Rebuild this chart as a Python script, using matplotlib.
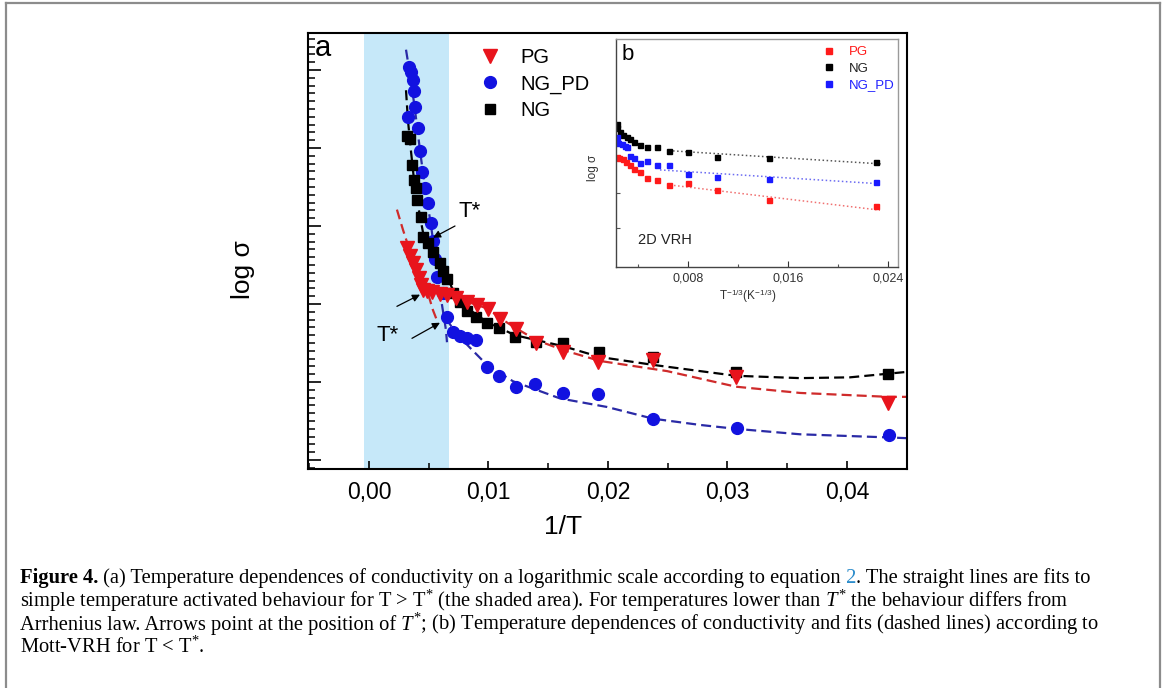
import matplotlib
matplotlib.use('Agg')
import matplotlib.pyplot as plt
from matplotlib.lines import Line2D
from matplotlib.ticker import MultipleLocator, FuncFormatter, FixedLocator

plt.rcParams['font.family'] = ['Liberation Sans', 'DejaVu Sans']
plt.rcParams['mathtext.fontset'] = 'custom'
plt.rcParams['mathtext.rm'] = 'Liberation Serif'
plt.rcParams['mathtext.it'] = 'Liberation Serif:italic'
plt.rcParams['mathtext.sf'] = 'Liberation Sans'

# ---- panel (a): log sigma vs 1/T ----
pg_x = [0.00318, 0.00343, 0.00368, 0.00393, 0.00418, 0.00435, 0.00452, 0.00485, 0.00527,
        0.00594, 0.00653, 0.00728, 0.0082, 0.00904, 0.00996, 0.01096, 0.0123, 0.01397,
        0.01623, 0.01916, 0.02377, 0.03071, 0.04343]
pg_y = [1.72, 1.62, 1.53, 1.44, 1.33, 1.24, 1.18, 1.17, 1.15, 1.13, 1.12, 1.08, 1.03, 0.99,
        0.94, 0.81, 0.68, 0.50, 0.38, 0.26, 0.28, 0.06, -0.27]

ngpd_x = [0.00335, 0.00351, 0.00368, 0.00377, 0.00385, 0.00326, 0.0041, 0.00427, 0.00444,
          0.00469, 0.00494, 0.0052, 0.00536, 0.00552, 0.00569, 0.00619, 0.00653, 0.00703,
          0.00762, 0.0082, 0.00895, 0.00987, 0.01088, 0.0123, 0.01389, 0.01623, 0.01916,
          0.02377, 0.0308, 0.04351]
ngpd_y = [4.04, 3.97, 3.87, 3.73, 3.53, 3.40, 3.26, 2.96, 2.69, 2.49, 2.29, 2.04, 1.81, 1.58,
          1.35, 1.14, 0.83, 0.64, 0.59, 0.56, 0.54, 0.19, 0.08, -0.06, -0.03, -0.14, -0.15,
          -0.47, -0.59, -0.68]

ng_x = [0.0032, 0.00343, 0.0036, 0.00377, 0.00393, 0.00402, 0.00435, 0.00452, 0.00494,
        0.00536, 0.00594, 0.00619, 0.00653, 0.00703, 0.00762, 0.0082, 0.00895, 0.00987,
        0.01088, 0.01222, 0.01397, 0.01623, 0.01925, 0.02377, 0.03071, 0.04343]
ng_y = [3.15, 3.12, 2.78, 2.59, 2.49, 2.33, 2.12, 1.86, 1.78, 1.67, 1.53, 1.42, 1.32, 1.14,
        1.03, 0.91, 0.83, 0.76, 0.69, 0.58, 0.51, 0.50, 0.38, 0.32, 0.13, 0.10]

# fitted curves as drawn in the figure
pg_fit1_x = [0.00234, 0.00285, 0.00368, 0.00485, 0.00536, 0.00569]
pg_fit1_y = [2.21, 1.95, 1.56, 1.18, 0.92, 0.79]
pg_fit2_x = [0.00343, 0.00427, 0.00527, 0.00653, 0.0082, 0.00996, 0.01096, 0.0123, 0.01397,
             0.01623, 0.01933, 0.02494, 0.03071, 0.03607, 0.04343, 0.04502]
pg_fit2_y = [1.60, 1.33, 1.18, 1.10, 1.03, 0.94, 0.82, 0.69, 0.54, 0.41, 0.27, 0.14, -0.06,
             -0.14, -0.19, -0.19]

ngpd_fit1_x = [0.0031, 0.00351, 0.00385, 0.00427, 0.00469, 0.00519, 0.00569, 0.00611, 0.00644, 0.00653]
ngpd_fit1_y = [4.26, 3.87, 3.49, 2.97, 2.49, 2.01, 1.44, 0.99, 0.67, 0.51]
ngpd_fit2_x = [0.00644, 0.0072, 0.00845, 0.00987, 0.01205, 0.01598, 0.01992, 0.02377, 0.0277,
               0.03071, 0.03607, 0.04343, 0.04502]
ngpd_fit2_y = [0.82, 0.64, 0.44, 0.22, 0.01, -0.21, -0.32, -0.47, -0.55, -0.60, -0.67, -0.71, -0.72]

ng_fit1_x = [0.0031, 0.00326, 0.00351, 0.00377, 0.0041, 0.00452, 0.0051, 0.00594]
ng_fit1_y = [3.74, 3.36, 2.97, 2.59, 2.27, 1.92, 1.69, 1.50]
ng_fit2_x = [0.00494, 0.00594, 0.00703, 0.0082, 0.00987, 0.01222, 0.01623, 0.01934, 0.02377,
             0.0277, 0.03071, 0.03607, 0.04025, 0.04502]
ng_fit2_y = [1.76, 1.54, 1.18, 0.95, 0.77, 0.60, 0.46, 0.32, 0.22, 0.14, 0.08, 0.05, 0.06, 0.13]

shade_x = [-0.0004, 0.0067]
xticks_a = [0.0, 0.01, 0.02, 0.03, 0.04]

# ---- panel (b): 2D VRH ----
b_ng_x = [0.0023, 0.00234, 0.00256, 0.00282, 0.0031, 0.00334, 0.00368, 0.00416, 0.00474,
          0.0055, 0.0065, 0.00802, 0.01034, 0.0145, 0.02302]
b_ng_y = [2.97, 2.85, 2.75, 2.66, 2.59, 2.53, 2.47, 2.37, 2.32, 2.31, 2.21, 2.16, 2.04, 2.01, 1.88]
b_ngpd_x = [0.0023, 0.00242, 0.0027, 0.00296, 0.00314, 0.00336, 0.00368, 0.00416, 0.00474,
            0.0055, 0.0065, 0.00802, 0.01034, 0.0145, 0.02302]
b_ngpd_y = [2.59, 2.44, 2.40, 2.35, 2.32, 2.06, 1.99, 1.87, 1.91, 1.81, 1.80, 1.55, 1.45, 1.39, 1.31]
b_pg_x = [0.0023, 0.0025, 0.00278, 0.00304, 0.00336, 0.00368, 0.00416, 0.00474, 0.0055,
          0.0065, 0.00802, 0.01034, 0.0145, 0.02302]
b_pg_y = [2.04, 1.99, 1.96, 1.89, 1.80, 1.70, 1.59, 1.42, 1.37, 1.23, 1.28, 1.08, 0.79, 0.63]
b_ng_fit_x, b_ng_fit_y = [0.00648, 0.02352], [2.21, 1.83]
b_ngpd_fit_x, b_ngpd_fit_y = [0.00576, 0.02352], [1.66, 1.26]
b_pg_fit_x, b_pg_fit_y = [0.00656, 0.02336], [1.23, 0.51]

RED = '#e8141c'
BLUE = '#1212e0'
RED_FIT = '#cf2b2b'
BLUE_FIT = '#2a2aa6'

W, H = 1165, 688
fig = plt.figure(figsize=(W / 100, H / 100), dpi=100)


def fx(px):
    return px / W


def fy(py):
    return 1 - py / H


def comma(fmt):
    return FuncFormatter(lambda v, p: fmt.format(v).replace('.', ','))


# outer frame of the figure box
for xs, ys in [([6, 6], [3, 700]), ([6, 1160], [3, 3]), ([1160, 1160], [3, 700])]:
    fig.add_artist(Line2D([fx(v) for v in xs], [fy(v) for v in ys], color='#8c8c8c', lw=1.6))

# ---------------- main axes ----------------
ax = fig.add_axes([fx(308), fy(469), fx(907) - fx(308), fy(33) - fy(469)])
ax.axvspan(shade_x[0], shade_x[1], color='#c6e8f9', lw=0, zorder=0)

dash = (0, (4.5, 2.3))
for xs, ys, c in [(pg_fit1_x, pg_fit1_y, RED_FIT), (pg_fit2_x, pg_fit2_y, RED_FIT),
                  (ng_fit1_x, ng_fit1_y, 'k'), (ng_fit2_x, ng_fit2_y, 'k'),
                  (ngpd_fit1_x, ngpd_fit1_y, BLUE_FIT), (ngpd_fit2_x, ngpd_fit2_y, BLUE_FIT)]:
    ax.plot(xs, ys, ls=dash, color=c, lw=1.6, zorder=2)

ax.plot(ngpd_x, ngpd_y, 'o', color=BLUE, ms=8.5, mec=BLUE, zorder=3)
ax.plot(ng_x, ng_y, 's', color='k', ms=7.5, zorder=4)
ax.plot(pg_x, pg_y, 'v', color=RED, ms=9.5, mec=RED, zorder=5)

ax.set_xlim(-0.0051, 0.04502)
ax.set_ylim(-1.115, 4.474)
ax.xaxis.set_major_locator(FixedLocator(xticks_a))
ax.xaxis.set_minor_locator(MultipleLocator(0.005))
ax.xaxis.set_major_formatter(comma('{:.2f}'))
ax.yaxis.set_major_locator(MultipleLocator(1))
ax.yaxis.set_minor_locator(MultipleLocator(0.1))
ax.set_yticklabels([])
ax.tick_params(axis='x', which='major', direction='in', length=6, width=1.2, labelsize=16.5, pad=9)
ax.tick_params(axis='x', which='minor', direction='in', length=4, width=1.1)
ax.tick_params(axis='y', which='major', direction='in', length=9, width=1.2, labelleft=False)
ax.tick_params(axis='y', which='minor', direction='in', length=5, width=1.1)
for s in ax.spines.values():
    s.set_linewidth(1.5)

ax.set_xlabel('1/T', fontsize=19)
ax.xaxis.set_label_coords((563 - 308) / 599, -(527 - 469) / 436)
ax.xaxis.label.set_va('center')
ax.set_ylabel('log σ', fontsize=19)
ax.yaxis.set_label_coords((243 - 308) / 599, (469 - 270) / 436)
ax.yaxis.label.set_va('center')

ax.text(0.024, 0.966, 'a', transform=ax.transAxes, fontsize=21, ha='center', va='center')

arrow = dict(arrowstyle='-|>', color='k', lw=0.9, mutation_scale=11, shrinkA=0, shrinkB=0)
ax.annotate('', xy=(0.00536, 1.85), xytext=(0.0072, 2.0), arrowprops=arrow, zorder=6)
ax.annotate('', xy=(0.00427, 1.12), xytext=(0.00234, 0.97), arrowprops=arrow, zorder=6)
ax.annotate('', xy=(0.00594, 0.76), xytext=(0.0036, 0.56), arrowprops=arrow, zorder=6)
ax.text(0.00845, 2.18, 'T*', fontsize=16, ha='center', va='center')
ax.text(0.00159, 0.60, 'T*', fontsize=16, ha='center', va='center')

handles = [Line2D([], [], ls='none', marker='v', color=RED, ms=9.5),
           Line2D([], [], ls='none', marker='o', color=BLUE, ms=8.5),
           Line2D([], [], ls='none', marker='s', color='k', ms=7)]
ax.legend(handles, ['PG', 'NG_PD', 'NG'], loc='upper left', frameon=False, fontsize=14.5,
          bbox_to_anchor=((480 - 308) / 599, (469 - 48) / 436), borderpad=0, borderaxespad=0,
          handlelength=1.0, handletextpad=1.0, labelspacing=0.36)

# ---------------- inset (b) ----------------
ins = fig.add_axes([fx(616), fy(267), fx(898) - fx(616), fy(39) - fy(267)])
ins.set_facecolor('white')
ins.plot(b_ng_fit_x, b_ng_fit_y, ':', color='#555555', lw=1.1)
ins.plot(b_ngpd_fit_x, b_ngpd_fit_y, ':', color='#6b6bf2', lw=1.1)
ins.plot(b_pg_fit_x, b_pg_fit_y, ':', color='#f07070', lw=1.1)
ins.plot(b_ng_x, b_ng_y, 's', color='k', ms=3.6)
ins.plot(b_ngpd_x, b_ngpd_y, 's', color='#1a1aff', ms=3.6)
ins.plot(b_pg_x, b_pg_y, 's', color='#ff1a1a', ms=3.6)
ins.set_xlim(0.00224, 0.0248)
ins.set_ylim(-1.114, 5.4)
ins.xaxis.set_major_locator(MultipleLocator(0.008))
ins.xaxis.set_minor_locator(MultipleLocator(0.004))
ins.xaxis.set_major_formatter(comma('{:.3f}'))
ins.yaxis.set_major_locator(FixedLocator([0, 1]))
ins.tick_params(axis='x', which='major', direction='in', length=4, width=0.8, labelsize=9, pad=4,
                colors='#333333')
ins.tick_params(axis='x', which='minor', direction='in', length=2.5, width=0.8, colors='#555555')
ins.tick_params(axis='y', direction='in', length=3, width=0.8, labelleft=False, colors='#555555')
for name, s in ins.spines.items():
    s.set_linewidth(1.0)
    s.set_color('#9a9a9a' if name in ('top', 'right') else '#444444')
ins.set_xlabel(r'T$^{\mathsf{-1/3}}$(K$^{\mathsf{-1/3}}$)', fontsize=8.5, color='#333333')
ins.xaxis.set_label_coords(0.468, -0.13)
ins.xaxis.label.set_va('center')
ins.set_ylabel('log σ', fontsize=8.5, color='#333333')
ins.yaxis.set_label_coords(-0.082, 0.434)
ins.yaxis.label.set_va('center')
ins.text(0.021, 0.93, 'b', transform=ins.transAxes, fontsize=16, ha='left', va='center')
ins.text(0.174, 0.118, '2D VRH', transform=ins.transAxes, fontsize=10.5, ha='center', va='center',
         color='#222222')
bh = [Line2D([], [], ls='none', marker='s', color='#ff1a1a', ms=3.8),
      Line2D([], [], ls='none', marker='s', color='k', ms=3.8),
      Line2D([], [], ls='none', marker='s', color='#1a1aff', ms=3.8)]
leg = ins.legend(bh, ['PG', 'NG', 'NG_PD'], loc='upper left', frameon=False, fontsize=9.5,
                 bbox_to_anchor=((822 - 616) / 282, (267 - 46) / 228), borderpad=0, borderaxespad=0,
                 handlelength=1.0, handletextpad=1.0, labelspacing=0.33)
for t, c in zip(leg.get_texts(), ['#ff1a1a', '#222222', '#2020ff']):
    t.set_color(c)

# ---------------- caption ----------------
renderer = fig.canvas.get_renderer()
SERIF = 'Liberation Serif'
cap_lines = [
    [('Figure 4.', 'bold', 'normal', 'k'),
     (' (a) Temperature dependences of conductivity on a logarithmic scale according to equation', 'normal', 'normal', 'k'),
     (' 2', 'normal', 'normal', '#2b8ccb'),
     ('. The straight lines are fits to', 'normal', 'normal', 'k')],
    [('simple temperature activated behaviour for T > T$^{*}$ (the shaded area). For temperatures lower than', 'normal', 'normal', 'k'),
     (' T', 'normal', 'italic', 'k'),
     ('$^{*}$ the behaviour differs from', 'normal', 'normal', 'k')],
    [('Arrhenius law. Arrows point at the position of', 'normal', 'normal', 'k'),
     (' T', 'normal', 'italic', 'k'),
     ('$^{*}$; (b) Temperature dependences of conductivity and fits (dashed lines) according to', 'normal', 'normal', 'k')],
    [('Mott-VRH for T < T$^{*}$.', 'normal', 'normal', 'k')],
]


def draw_line(segs, x0, base, size):
    x = x0
    arts = []
    for s, w, st, c in segs:
        t = fig.text(fx(x), fy(base), s, fontfamily=SERIF, fontweight=w, fontstyle=st,
                     color=c, fontsize=size, ha='left', va='baseline')
        x += t.get_window_extent(renderer).width
        arts.append(t)
    return arts, x - x0


size = 12.0
arts, w = draw_line(cap_lines[0], 20, 583, size)
for a in arts:
    a.remove()
size = size * 1073 / w
for i, segs in enumerate(cap_lines):
    draw_line(segs, 20, 583 + 23.4 * i, size)

fig.savefig('out.png', dpi=100)
